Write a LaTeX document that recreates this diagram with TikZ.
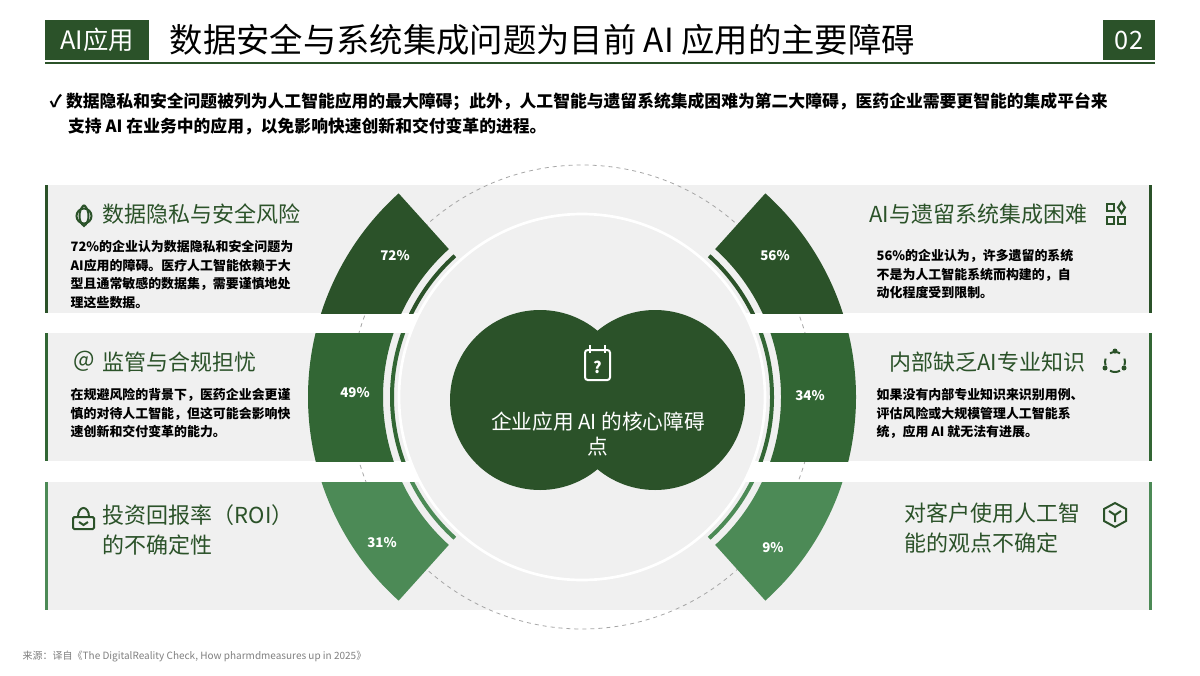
\documentclass[tikz,border=0pt]{standalone}
\usepackage{fontspec}
\setmainfont{Noto Sans CJK SC}
\usetikzlibrary{calc}
\definecolor{dg}{HTML}{2B5229}
\definecolor{mg}{HTML}{326634}
\definecolor{lg}{HTML}{4C8A56}
\definecolor{bg}{HTML}{F0F0F0}
\begin{document}
\begin{tikzpicture}[x=0.75pt,y=-0.75pt,
  pct/.style={text=white,font=\bfseries\fontsize{10}{12}\selectfont},
  head/.style={text=dg,font=\fontsize{16.5}{22}\selectfont,anchor=west,align=left},
  body/.style={font=\bfseries\fontsize{9.7}{13.8}\selectfont,anchor=north west,align=left},
  ic/.style={draw=dg,line width=1.5pt}]
\useasboundingbox (0,0) rectangle (1200,675);
\fill[white] (0,0) rectangle (1200,675);
% header
\node[fill=dg,text=white,minimum width=78pt,minimum height=30pt,font=\fontsize{19}{20}\selectfont] (tag) at (97,40) {AI应用};
\node[anchor=west,font=\fontsize{25}{28}\selectfont] (title) at (165,40) {数据安全与系统集成问题为目前 AI 应用的主要障碍};
\node[fill=dg,text=white,minimum width=39pt,minimum height=30pt,font=\fontsize{19}{20}\selectfont] (num) at (1129,40) {02};
\draw[dg,line width=1.3pt] (45,63) -- (1155,63);
\node[anchor=north west,font=\bfseries\fontsize{12.6}{19}\selectfont,align=left] (intro) at (45,88) {✓ 数据隐私和安全问题被列为人工智能应用的最大障碍；此外，人工智能与遗留系统集成困难为第二大障碍，医药企业需要更智能的集成平台来\\\hspace*{1.1em}支持 AI 在业务中的应用，以免影响快速创新和交付变革的进程。};
% bands
\foreach \ya/\yb in {185/313,333/461,482/610}{
  \fill[bg] (45,\ya) rectangle (597,\yb);
  \fill[bg] (597,\ya) rectangle (1152,\yb);
}
\fill[dg] (45,185) rectangle (48,313);
\fill[mg] (45,333) rectangle (48,461);
\fill[lg] (45,482) rectangle (48,610);
\fill[dg] (1149,185) rectangle (1152,313);
\fill[mg] (1149,333) rectangle (1152,461);
\fill[lg] (1149,482) rectangle (1152,610);
% dashed circle
\coordinate (c) at (582,397);
\draw[gray!70,dashed,line width=0.6pt] (c) circle[radius=232];
% wedges
\foreach \ya/\yb/\col in {185/313/dg,333/461/mg,482/610/lg}{
  \begin{scope}
    \clip (45,\ya) rectangle (1152,\yb);
    \fill[\col] (c) ++(132:274) arc[start angle=132,end angle=228,radius=274] -- ($(c)+(228:199)$) arc[start angle=228,end angle=132,radius=199] -- cycle;
    \fill[\col] (c) ++(-48:274) arc[start angle=-48,end angle=48,radius=274] -- ($(c)+(48:199)$) arc[start angle=48,end angle=-48,radius=199] -- cycle;
    \draw[\col,line width=3pt] (c) ++(132:190) arc[start angle=132,end angle=228,radius=190];
    \draw[\col,line width=3pt] (c) ++(-48:190) arc[start angle=-48,end angle=48,radius=190];
  \end{scope}
}
% inner disc
\fill[bg,draw=white,line width=2pt] (c) circle[radius=183];
\fill[dg] (540,400) circle[radius=90];
\fill[dg] (655,400) circle[radius=90];
\node[text=white,font=\fontsize{15.5}{19}\selectfont,align=center] (core) at (598,434) {企业应用 AI 的核心障碍\\点};
% core icon
\draw[white,line width=1.5pt,rounded corners=2pt] (585,350) rectangle (610,380);
\draw[white,line width=1.5pt] (590,345)--(590,353) (605,345)--(605,353);
\node[text=white,font=\bfseries\fontsize{12}{12}\selectfont] (q) at (597.5,367) {?};
% percentages
\node[pct] (p72) at (395,256) {72\%};
\node[pct] (p49) at (355,393) {49\%};
\node[pct] (p31) at (382,543) {31\%};
\node[pct] (p56) at (775,256) {56\%};
\node[pct] (p34) at (810,396) {34\%};
\node[pct] (p9) at (773,548) {9\%};
% left texts
\node[head] (h1) at (98,214) {数据隐私与安全风险};
\node[body] (b1) at (66,236) {72\%的企业认为数据隐私和安全问题为\\AI应用的障碍。医疗人工智能依赖于大\\型且通常敏感的数据集，需要谨慎地处\\理这些数据。};
\node[head] (h2) at (98,362) {监管与合规担忧};
\node[body] (b2) at (66,384) {在规避风险的背景下，医药企业会更谨\\慎的对待人工智能，但这可能会影响快\\速创新和交付变革的能力。};
\node[head] (h3) at (98,530) {投资回报率（ROI）\\的不确定性};
% right texts
\node[head,anchor=east] (h4) at (1092,214) {AI与遗留系统集成困难};
\node[body] (b4) at (872,245) {56\%的企业认为，许多遗留的系统\\不是为人工智能系统而构建的，自\\动化程度受到限制。};
\node[head,anchor=east] (h5) at (1090,362) {内部缺乏AI专业知识};
\node[body] (b5) at (872,384) {如果没有内部专业知识来识别用例、\\评估风险或大规模管理人工智能系\\统，应用 AI 就无法有进展。};
\node[head,anchor=west] (h6) at (900,528) {对客户使用人工智\\能的观点不确定};
% icons
\draw[ic] (84,205) .. controls (78,210) and (78,222) .. (84,226) .. controls (90,222) and (90,210) .. (84,205);
\draw[ic] (84,216) circle[radius=7.5];
\node[text=dg,font=\fontsize{17}{17}\selectfont] (at) at (84,361) {@};
\draw[ic,rounded corners=1pt] (73,517) rectangle (94,529);
\draw[ic] (78,517) .. controls (78,505) and (89,505) .. (89,517);
\draw[ic] (79,522) -- (83.5,525) -- (88,522);
\draw[ic] (1107,204) rectangle (1114,211) (1107,217) rectangle (1114,224) (1118,217) rectangle (1125,224);
\draw[ic] (1121.5,202) -- (1125,207.5) -- (1121.5,213) -- (1118,207.5) -- cycle;
\draw[ic] (1115,362) ++(60:10) arc[start angle=60,end angle=120,radius=10];
\draw[ic] (1115,362) ++(160:10) arc[start angle=160,end angle=200,radius=10];
\draw[ic] (1115,362) ++(-60:10) arc[start angle=-60,end angle=-120,radius=10];
\draw[ic] (1115,362) ++(-20:10) arc[start angle=-20,end angle=20,radius=10];
\fill[dg] (1115,351) circle[radius=2.5] (1105,368) circle[radius=2.5] (1124,368) circle[radius=2.5];
\draw[ic] (1115,503) -- (1126,509) -- (1126,521) -- (1115,527) -- (1104,521) -- (1104,509) -- cycle;
\draw[ic] (1109,511) -- (1115,515) -- (1121,511) (1115,515) -- (1115,522);
% source
\node[anchor=west,text=gray,font=\itshape\fontsize{7.5}{9}\selectfont] (src) at (18,657) {来源：译自《The DigitalReality Check, How pharmdmeasures up in 2025》};
\end{tikzpicture}
\end{document}
